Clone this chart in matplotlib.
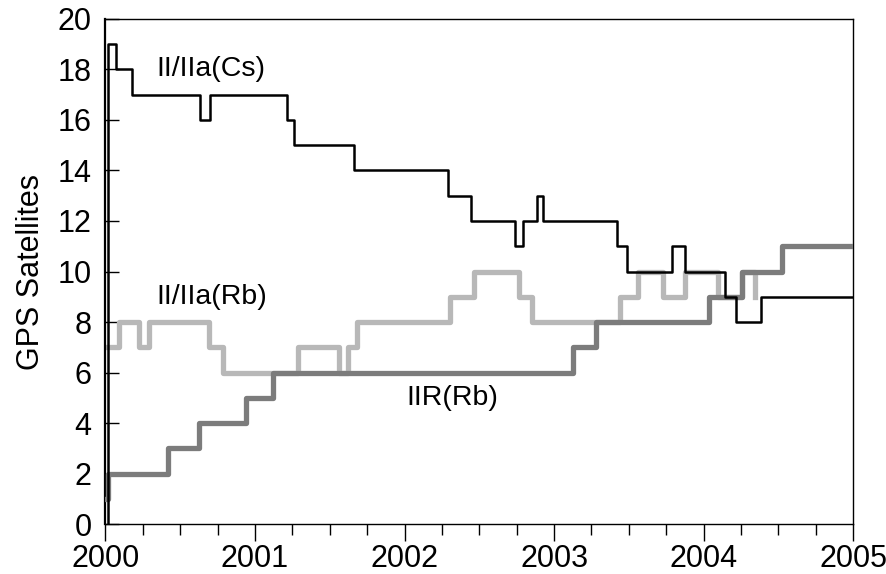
import matplotlib
matplotlib.use("Agg")
import matplotlib.pyplot as plt
from matplotlib.ticker import MultipleLocator

plt.rcParams['font.family'] = ['Liberation Sans', 'DejaVu Sans']

# II/IIa Cesium clocks (step changes, year -> satellites)
cs_year = [2000.015, 2000.015, 2000.070, 2000.175, 2000.632, 2000.699, 2001.212,
           2001.261, 2001.662, 2002.293, 2002.443, 2002.739, 2002.795, 2002.884,
           2002.928, 2003.423, 2003.486, 2003.787, 2003.873, 2004.144, 2004.215,
           2004.381, 2005.0]
cs_count = [0, 19, 18, 17, 16, 17, 16, 15, 14, 13, 12, 11, 12, 13, 12, 11, 10,
            11, 10, 9, 8, 9, 9]

# II/IIa Rubidium clocks
rb_year = [2000.0, 2000.091, 2000.227, 2000.291, 2000.694, 2000.788, 2001.290,
           2001.562, 2001.624, 2001.680, 2002.304, 2002.465, 2002.763, 2002.851,
           2003.441, 2003.562, 2003.731, 2003.876, 2004.099, 2004.256, 2004.344]
rb_count = [7, 8, 7, 8, 7, 6, 7, 6, 7, 8, 9, 10, 9, 8, 9, 10, 9, 10, 9, 10, 9]

# IIR Rubidium clocks
iir_year = [2000.0, 2000.02, 2000.416, 2000.627, 2000.940, 2001.122, 2003.129,
            2003.281, 2004.037, 2004.256, 2004.523, 2005.0]
iir_count = [1, 2, 3, 4, 5, 6, 7, 8, 9, 10, 11, 11]

fig = plt.figure(figsize=(8.86, 5.74), dpi=100)
ax = fig.add_axes([0.119, 0.087, 0.844, 0.880])

ax.step(rb_year, rb_count, where='post', color='#b8b8b8', lw=3.8, zorder=2)
ax.step(iir_year, iir_count, where='post', color='#7c7c7c', lw=3.8, zorder=3)
ax.step(cs_year, cs_count, where='post', color='black', lw=1.8, zorder=4)

ax.text(2000.342, 18.0, 'II/IIa(Cs)', fontsize=20.5, va='center', ha='left')
ax.text(2000.342, 9.0, 'II/IIa(Rb)', fontsize=20.5, va='center', ha='left')
ax.text(2002.015, 5.0, 'IIR(Rb)', fontsize=20.5, va='center', ha='left')

ax.set_xlim(2000, 2005)
ax.set_ylim(0, 20)
ax.xaxis.set_major_locator(MultipleLocator(1))
ax.xaxis.set_minor_locator(MultipleLocator(0.25))
ax.yaxis.set_major_locator(MultipleLocator(2))
ax.tick_params(axis='x', which='major', direction='out', length=12, width=1, labelsize=22, pad=2)
ax.tick_params(axis='x', which='minor', direction='out', length=8, width=1)
ax.tick_params(axis='y', which='major', direction='in', length=10, width=1, labelsize=22, pad=10)
ax.set_ylabel('GPS Satellites', fontsize=22, labelpad=8)

for s in ax.spines.values():
    s.set_linewidth(1.0)
ax.spines['left'].set_linewidth(1.6)

fig.savefig('out.png', dpi=100)
